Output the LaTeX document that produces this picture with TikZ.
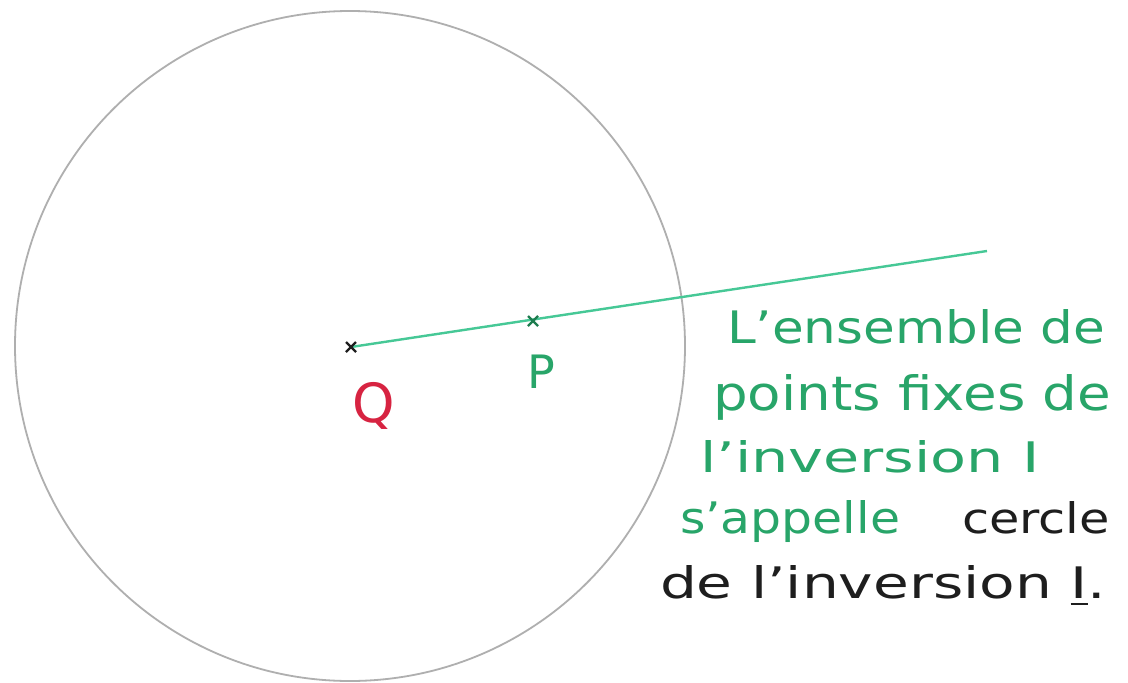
\documentclass[tikz,border=0pt]{standalone}
\usepackage{fontspec}
\setmainfont{DejaVu Sans}
\usepackage{graphicx}
\definecolor{ink}{RGB}{30,30,30}
\definecolor{grn}{RGB}{40,165,105}
\definecolor{lgrn}{RGB}{70,200,150}
\definecolor{qred}{RGB}{215,35,65}
\definecolor{circgray}{RGB}{175,175,175}
\begin{document}
\begin{tikzpicture}[x=1pt,y=-1pt,
  hw/.style={anchor=base west, inner sep=0pt, outer sep=0pt},
  crossmark/.style={line width=2.2pt}]
\useasboundingbox (0,0) rectangle (1128,683);
\fill[white] (0,0) rectangle (1128,683);
% circle
\node[circle, draw=circgray, line width=1.8pt, minimum size=670pt, inner sep=0pt] (circ) at (350,346) {};
% points
\coordinate (Q) at (351,347);
\coordinate (P) at (533,321);
\coordinate (E) at (987,251);
\draw[lgrn, line width=2.4pt] (Q) -- (E);
\draw[crossmark, ink] ([shift={(-5,-5)}]Q) -- ([shift={(5,5)}]Q);
\draw[crossmark, ink] ([shift={(-5,5)}]Q) -- ([shift={(5,-5)}]Q);
\draw[crossmark, grn!75!black] ([shift={(-5,-5)}]P) -- ([shift={(5,5)}]P);
\draw[crossmark, grn!75!black] ([shift={(-5,5)}]P) -- ([shift={(5,-5)}]P);
% labels
\node[text=qred, font=\fontsize{54}{54}\selectfont, inner sep=0pt] (qlab) at (374,406) {Q};
\node[text=grn, font=\fontsize{46}{46}\selectfont, inner sep=0pt] (plab) at (541,372) {P};
% text
\node[hw, text=grn] (t1) at (727,343) {\resizebox{378pt}{34pt}{L’ensemble de}};
\node[hw, text=grn] (t2) at (713,410) {\resizebox{398pt}{36pt}{points fixes de}};
\node[hw, text=grn] (t3) at (700,472) {\resizebox{340pt}{32pt}{l’inversion I}};
\node[hw, text=grn] (t4) at (680,533) {\resizebox{220pt}{33pt}{s’appelle}};
\node[hw, text=ink] (t4b) at (962,533) {\resizebox{148pt}{32pt}{cercle}};
\node[hw, text=ink] (t5) at (660,598) {\resizebox{446pt}{33pt}{de l’inversion \underline{I}.}};
\end{tikzpicture}
\end{document}
